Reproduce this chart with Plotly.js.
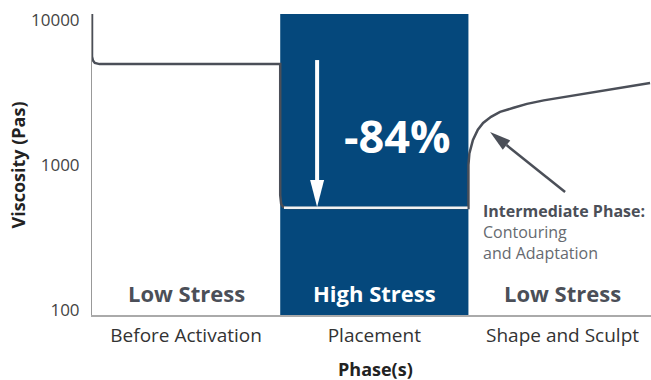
<!DOCTYPE html>
<html>
<head>
<meta charset="utf-8">
<script src="https://cdn.plot.ly/plotly-3.0.1.min.js"></script>
<style>
  html, body { margin: 0; padding: 0; background: #fff; }
  #graph { width: 651px; height: 380px; }
</style>
</head>
<body>
<div id="graph"></div>
<script>
// phases along the x axis (one unit each)
const phaseLabels = ['Before Activation', 'Placement', 'Shape and Sculpt'];
const stressLabels = ['Low Stress', 'High Stress', 'Low Stress'];
const yTicks = [100, 1000, 10000];

// viscosity curve (Pas)
const curveX = [0, 0, 0.005, 0.015, 0.04, 1.0, 1.0, 1.005, 1.015, 1.04, 2.0, 2.0, 2.005, 2.024, 2.05, 2.078, 2.12, 2.168, 2.24, 2.311, 2.4, 2.487, 2.662, 2.965];
const curveY = [11000, 5600, 5250, 5050, 4960, 4960, 620, 540, 515, 505, 505, 1000, 1200, 1486, 1750, 1950, 2150, 2323, 2480, 2640, 2790, 2910, 3187, 3680];

// part of the curve drawn in white inside the high stress band
const highX = [1.02, 1.995];
const highY = [507, 507];

const drop = '-84%';
const noteTitle = 'Intermediate Phase:';
const noteLines = ['Contouring', 'and Adaptation'];

const darkGrey = '#4b4f58';
const blue = '#05487c';
const font = 'Open Sans, sans-serif';

function drawGraph() {
    const curve = {
        x: curveX,
        y: curveY,
        mode: 'lines',
        line: {color: darkGrey, width: 2.5},
        hoverinfo: 'none',
    };

    const highCurve = {
        x: highX,
        y: highY,
        mode: 'lines',
        line: {color: '#f2f2f2', width: 2.5},
        hoverinfo: 'none',
    };

    const stressNotes = stressLabels.map((label, i) => ({
        x: i + 0.5,
        xref: 'x',
        y: 0.073,
        yref: 'paper',
        yanchor: 'middle',
        text: '<b>' + label + '</b>',
        showarrow: false,
        font: {family: font, size: 22, color: i === 1 ? '#ffffff' : darkGrey},
    }));

    const annotations = stressNotes.concat([
        {
            x: 1.62, xref: 'x',
            y: 0.598, yref: 'paper',
            yanchor: 'middle',
            text: '<b>' + drop + '</b>',
            showarrow: false,
            font: {family: font, size: 45, color: '#ffffff'},
        },
        {
            x: 2.067, xref: 'x',
            y: 0.388, yref: 'paper',
            xanchor: 'left', yanchor: 'top',
            align: 'left',
            text: '<b><span style="font-size:16px;color:' + darkGrey + '">' + noteTitle + '</span></b><br>' + noteLines.join('<br>'),
            showarrow: false,
            font: {family: font, size: 16, color: '#666a70'},
        },
        // axis titles, placed by hand to sit where the reference has them
        {
            x: -0.1324, xref: 'paper',
            y: 0.5, yref: 'paper',
            xanchor: 'center', yanchor: 'middle',
            textangle: -90,
            text: '<b>Viscosity (Pas)</b>',
            showarrow: false,
            font: {family: font, size: 18, color: '#222222'},
        },
        {
            x: 0.507, xref: 'paper',
            y: -0.178, yref: 'paper',
            xanchor: 'center', yanchor: 'middle',
            text: '<b>Phase(s)</b>',
            showarrow: false,
            font: {family: font, size: 18, color: '#222222'},
        },
    ]);

    const shapes = [
        {
            type: 'rect', layer: 'below',
            xref: 'x', x0: 1, x1: 2,
            yref: 'paper', y0: 0, y1: 1,
            fillcolor: blue, line: {width: 0},
        },
        // white down arrow
        {
            type: 'line',
            xref: 'x', x0: 1.196, x1: 1.196,
            yref: 'paper', y0: 0.847, y1: 0.445,
            line: {color: '#ffffff', width: 4},
        },
        {
            type: 'path',
            xref: 'x', xsizemode: 'pixel', xanchor: 1.196,
            yref: 'paper', ysizemode: 'pixel', yanchor: 0.359,
            path: 'M-7,27L7,27L0,0Z',
            fillcolor: '#ffffff', line: {width: 0},
        },
        // grey pointer to the curve
        {
            type: 'path',
            xref: 'x', xsizemode: 'pixel', xanchor: 2.115,
            yref: 'paper', ysizemode: 'pixel', yanchor: 0.608,
            path: 'M75,-60L16.4,-13.1',
            line: {color: darkGrey, width: 2.5},
        },
        {
            type: 'path',
            xref: 'x', xsizemode: 'pixel', xanchor: 2.115,
            yref: 'paper', ysizemode: 'pixel', yanchor: 0.608,
            path: 'M0,0L20.2,-8.4L12.7,-17.8Z',
            fillcolor: darkGrey, line: {width: 0},
        },
    ];

    const layout = {
        width: 651,
        height: 380,
        margin: {l: 92, r: 0, t: 14, b: 65},
        paper_bgcolor: '#ffffff',
        plot_bgcolor: '#ffffff',
        font: {family: font, color: '#333333'},
        showlegend: false,
        xaxis: {
            range: [0, 2.97],
            tickvals: [0.5, 1.5, 2.5],
            ticktext: phaseLabels,
            tickfont: {family: font, size: 19, color: '#333333'},
            ticklabelstandoff: 3,
            showgrid: false,
            zeroline: false,
            showline: true,
            linecolor: '#aaaaaa',
            linewidth: 1.5,
            ticks: '',
        },
        yaxis: {
            type: 'log',
            range: [1.966, 4.041],
            tickvals: yTicks,
            ticktext: yTicks.map(String),
            tickfont: {family: font, size: 17, color: '#444444'},
            ticklabelstandoff: 8,
            showgrid: false,
            zeroline: false,
            showline: true,
            linecolor: '#999999',
            linewidth: 1,
            ticks: '',
        },
        annotations: annotations,
        shapes: shapes,
    };

    const config = {
        displayModeBar: false,
        staticPlot: true,
    };

    Plotly.newPlot('graph', [curve, highCurve], layout, config);
}

drawGraph();
</script>
</body>
</html>
